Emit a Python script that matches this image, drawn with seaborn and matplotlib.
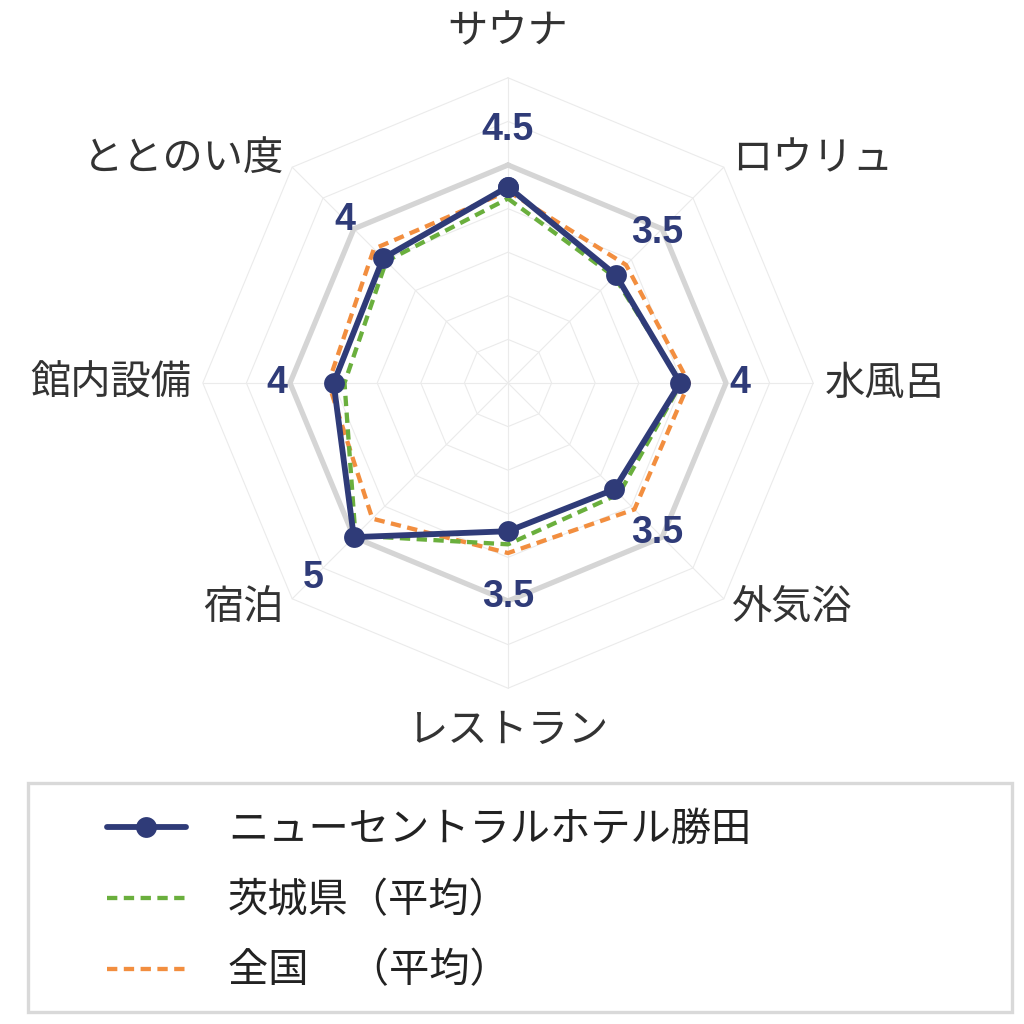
import numpy as np
import pandas as pd
import matplotlib
matplotlib.use("Agg")
import matplotlib.pyplot as plt
from matplotlib.patches import Rectangle
import seaborn as sns

# data
categories = ["サウナ", "ロウリュ", "水風呂", "外気浴", "レストラン", "宿泊", "館内設備", "ととのい度"]
hotel = [4.5, 3.5, 3.95, 3.45, 3.4, 5.0, 4.0, 4.05]
ibaraki = [4.23, 3.45, 3.97, 3.6, 3.7, 4.95, 3.75, 3.95]
national = [4.4, 3.83, 4.15, 4.1, 3.9, 4.4, 4.12, 4.35]
full_score = [5, 5, 5, 5, 5, 5, 5, 5]
score_labels = ["4.5", "3.5", "4", "3.5", "3.5", "5", "4", "4"]
series_names = ["ニューセントラルホテル勝田", "茨城県（平均）", "全国　（平均）"]
grid_levels = [1, 2, 3, 4, 5, 6, 7]

# layout (radius in value units)
label_r = [5.8, 4.85, 5.32, 4.85, 4.9, 6.33, 5.3, 5.29]
S = 43.6  # px per unit
NAVY = "#2f3b78"
GREEN = "#6aaf3d"
ORANGE = "#f28e3f"

sns.set_theme(style="white")
plt.rcParams["font.family"] = ["Noto Sans CJK JP", "DejaVu Sans"]

n = len(categories)
theta = np.arange(n) * 2 * np.pi / n


def to_xy(vals):
    vals = list(vals) + [vals[0]]
    th = np.append(theta, theta[0])
    r = np.array(vals, dtype=float)
    return pd.DataFrame({"x": r * np.sin(th), "y": r * np.cos(th), "i": np.arange(n + 1)})


fig = plt.figure(figsize=(10.24, 10.24), dpi=100)
ax = fig.add_axes([0, 0, 1, 1])
ax.set_xlim(-508 / S, 516 / S)
ax.set_ylim(-641 / S, 383 / S)
ax.set_axis_off()

# grid rings and spokes
for lv in grid_levels:
    sns.lineplot(data=to_xy([lv] * n), x="x", y="y", sort=False, estimator=None,
                 color="#ebebeb", linewidth=0.8, ax=ax, zorder=1)
for t in theta:
    ax.plot([0, max(grid_levels) * np.sin(t)], [0, max(grid_levels) * np.cos(t)],
            color="#ebebeb", linewidth=0.8, zorder=1)

sns.lineplot(data=to_xy(full_score), x="x", y="y", sort=False, estimator=None,
             color="#d5d5d5", linewidth=3.8, ax=ax, zorder=2)

sns.lineplot(data=to_xy(national), x="x", y="y", sort=False, estimator=None,
             color=ORANGE, linewidth=3.1, linestyle=(0, (2.4, 1.5)), ax=ax, zorder=3)
h_nat = ax.lines[-1]
sns.lineplot(data=to_xy(ibaraki), x="x", y="y", sort=False, estimator=None,
             color=GREEN, linewidth=3.1, linestyle=(0, (2.4, 1.5)), ax=ax, zorder=4)
h_ib = ax.lines[-1]
sns.lineplot(data=to_xy(hotel), x="x", y="y", sort=False, estimator=None,
             color=NAVY, linewidth=4.2, marker="o", markersize=15,
             markeredgecolor=NAVY, markeredgewidth=0, ax=ax, zorder=5)
h_hotel = ax.lines[-1]

# score labels
for t, r, s in zip(theta, label_r, score_labels):
    ax.text(r * np.sin(t), r * np.cos(t), s, ha="center", va="center",
            fontsize=27, fontweight="bold", color=NAVY, family="Liberation Sans")

# category labels
for t, c in zip(theta, categories):
    sx, cy = np.sin(t), np.cos(t)
    if abs(sx) < 1e-6:
        r = 8.07 if cy > 0 else 7.98
        ax.text(0, r * cy, c, ha="center", va="center", fontsize=29, color="#333333")
    else:
        r = 7.27
        ax.text(r * sx, r * cy, c, ha="left" if sx > 0 else "right", va="center",
                fontsize=29, color="#333333")

# legend
fig.patches.append(Rectangle((28 / 1024, 1 - 1012 / 1024), 984 / 1024, 229 / 1024,
                             transform=fig.transFigure, fill=False,
                             edgecolor="#d9d9d9", linewidth=2.4))
ax.legend([h_hotel, h_ib, h_nat], series_names, loc="upper left",
          bbox_to_anchor=(107 / 1024, 1 - 809 / 1024), bbox_transform=fig.transFigure,
          frameon=False, fontsize=29, borderpad=0, borderaxespad=0,
          handlelength=1.95, handletextpad=1.05, labelspacing=0.74, labelcolor="#222222")

fig.savefig("out.png", dpi=100)
